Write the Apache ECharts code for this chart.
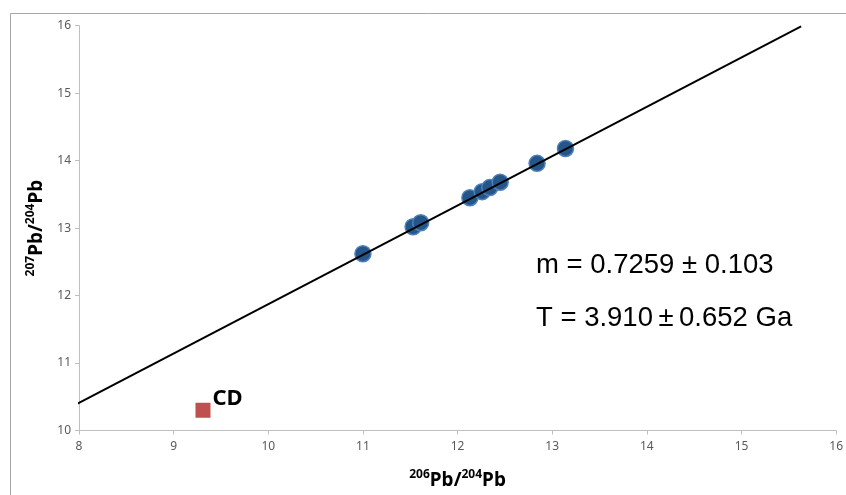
<!DOCTYPE html>
<html>
<head>
<meta charset="utf-8">
<script src="https://cdn.jsdelivr.net/npm/echarts@6/dist/echarts.min.js"></script>
<style>
html,body{margin:0;padding:0;background:#fff;}
#chart{width:846px;height:495px;}
</style>
</head>
<body>
<div id="chart"></div>
<script>
// Sample data (206Pb/204Pb, 207Pb/204Pb)
const sampleX = [11.00, 11.53, 11.61, 12.13, 12.26, 12.34, 12.45, 12.84, 13.14];
const sampleY = [12.62, 13.02, 13.08, 13.45, 13.54, 13.60, 13.68, 13.96, 14.18];
// CD point
const cdX = [9.31];
const cdY = [10.30];
// Isochron fit line endpoints
const fitX = [7.92, 15.63];
const fitY = [10.35, 15.99];
// Axis ticks
const xTicks = [8, 9, 10, 11, 12, 13, 14, 15, 16];
const yTicks = [10, 11, 12, 13, 14, 15, 16];
const annotations = ['m = 0.7259 \u00B1 0.103', 'T = 3.910\u2009\u00B1\u20090.652 Ga'];

const chart = echarts.init(document.getElementById('chart'), null, {renderer: 'canvas'});
const tickFont = {color: '#595959', fontSize: 12, fontFamily: 'Noto Sans'};
const richName = {
  sup: {fontSize: 12, fontWeight: 'bold', fontFamily: 'Noto Sans', color: '#000', verticalAlign: 'top', lineHeight: 24, padding: [0,0,7,0]},
  b: {fontSize: 19, fontWeight: 'bold', fontFamily: 'Noto Sans', color: '#000', lineHeight: 24}
};
chart.setOption({
  animation: false,
  backgroundColor: '#fff',
  grid: {left: 79, right: 8.5, top: 25.7, bottom: 62.3},
  xAxis: {
    type: 'value', min: xTicks[0], max: xTicks[xTicks.length-1], interval: 1,
    axisLine: {show: true, lineStyle: {color: '#bfbfbf'}},
    axisTick: {show: true, length: 4, lineStyle: {color: '#bfbfbf'}},
    splitLine: {show: false},
    axisLabel: Object.assign({margin: 10}, tickFont),
    name: '{sup|206}{b|Pb/}{sup|204}{b|Pb}',
    nameLocation: 'middle', nameGap: 38,
    nameTextStyle: {rich: richName}
  },
  yAxis: {
    type: 'value', min: yTicks[0], max: yTicks[yTicks.length-1], interval: 1,
    axisLine: {show: true, lineStyle: {color: '#bfbfbf'}},
    axisTick: {show: true, length: 4, lineStyle: {color: '#bfbfbf'}},
    splitLine: {show: false},
    axisLabel: Object.assign({margin: 8}, tickFont),
    name: '{sup|207}{b|Pb/}{sup|204}{b|Pb}',
    nameLocation: 'middle', nameGap: 29, nameRotate: 90,
    nameTextStyle: {rich: richName}
  },
  graphic: [
    {type: 'rect', left: 8, top: 11, shape: {width: 900, height: 600}, style: {fill: 'none', stroke: '#a6a6a6', lineWidth: 1}, z: -1},
    {type: 'text', left: 536, top: 251, style: {text: annotations[0], font: '27.5px "Liberation Sans"', fill: '#000'}},
    {type: 'text', left: 536, top: 304, style: {text: annotations[1], font: '27.5px "Liberation Sans"', fill: '#000'}}
  ],
  series: [
    {
      type: 'line', data: fitX.map((x, i) => [x, fitY[i]]), clip: false,
      symbol: 'none', lineStyle: {color: '#000', width: 2}, z: 3
    },
    {
      type: 'scatter', data: sampleX.map((x, i) => [x, sampleY[i]]),
      symbol: 'circle', symbolSize: 16,
      itemStyle: {color: '#24568a', borderColor: '#4f80b8', borderWidth: 1.5, opacity: 1}, z: 2
    },
    {
      type: 'scatter', data: cdX.map((x, i) => [x, cdY[i]]),
      symbol: 'rect', symbolSize: 15,
      itemStyle: {color: '#c0504d', opacity: 1},
      label: {show: true, formatter: 'CD', position: 'right', distance: 2, offset: [0, -12],
        fontSize: 22, fontWeight: 'bold', fontFamily: 'Noto Sans', color: '#000'}
    }
  ]
});
</script>
</body>
</html>
